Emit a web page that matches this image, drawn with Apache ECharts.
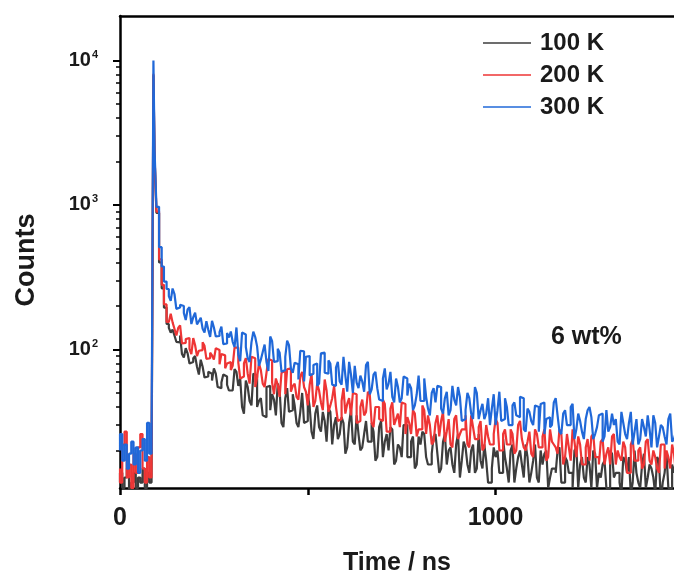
<!DOCTYPE html>
<html>
<head>
<meta charset="utf-8">
<script src="https://cdn.jsdelivr.net/npm/echarts@6/dist/echarts.min.js"></script>
<style>
html,body{margin:0;padding:0;background:#fff;}
#chart{width:674px;height:572px;}
</style>
</head>
<body>
<div id="chart"></div>
<script>
// Time channels (ns): baseline, peak and tail channels
const times = [0,6,12,18,24,30,36,42,48,54,60,66,72,78,84,89,
92,97,104,111,117,124,
130,140,150,160,170,180,190,200,210,220,230,240,250,260,270,280,290,300,310,320,330,340,350,360,370,380,390,400,
410,420,430,440,450,460,470,480,490,500,510,520,530,540,550,560,570,580,590,600,610,620,630,640,650,660,670,680,690,700,
710,720,730,740,750,760,770,780,790,800,810,820,830,840,850,860,870,880,890,900,910,920,930,940,950,960,970,980,990,1000,
1010,1020,1030,1040,1050,1060,1070,1080,1090,1100,1110,1120,1130,1140,1150,1160,1170,1180,1190,1200,1210,1220,1230,1240,1250,
1260,1270,1280,1290,1300,1310,1320,1330,1340,1350,1360,1370,1380,1390,1400,1410,1420,1430,1440,1450,1460,1470,1480];

// In-between tail channels (ns)
const timesMid = [135,145,155,165,175,185,195,205,215,225,235,245,255,265,275,285,295,305,315,325,335,345,355,365,375,385,395,405,
415,425,435,445,455,465,475,485,495,505,515,525,535,545,555,565,575,585,595,605,615,625,635,645,655,665,675,685,695,705,
715,725,735,745,755,765,775,785,795,805,815,825,835,845,855,865,875,885,895,905,915,925,935,945,955,965,975,985,995,1005,
1015,1025,1035,1045,1055,1065,1075,1085,1095,1105,1115,1125,1135,1145,1155,1165,1175,1185,1195,1205,1215,1225,1235,1245,
1255,1265,1275,1285,1295,1305,1315,1325,1335,1345,1355,1365,1375,1385,1395,1405,1415,1425,1435,1445,1455,1465,1475,1485];

const counts100K = [12,14,11,13,15,10,12,14,11,13,12,15,11,14,12,13,
7900,2150,880,400,265,195,
150,131,125,112,93,102,80,87,76,85,64,70,61,68,54,67,57,52,
73,56,40,61,44,68,40,46,34,56,
49,35,52,29,54,38,41,29,50,32,
40,24,41,27,32,39,22,34,26,31,
21,38,22,26,21,32,23,27,18,32,
23,20,28,17,21,30,18,23,15,25,
27,18,16,25,19,15,26,20,16,22,
13,23,16,20,14,26,15,17,12,21,
20,14,18,12,22,15,20,13,18,14,
22,12,16,20,13,15,20,12,18,14,
11,21,16,13,18,11,19,14,16,11,
20,13,14,10,17,18,12,14,11,19,
13,15,10,17,12,19,11,14];

const counts100KMid = [141,137,113,125,88,94,82,90,67,76,65,68,74,55,59,65,52,52,
70,63,36,55,41,66,44,35,55,38,
45,58,31,46,37,49,31,37,31,49,
27,36,29,37,23,37,30,24,34,19,
31,23,35,20,26,23,31,17,29,18,
26,29,16,22,18,30,18,25,16,22,
26,16,19,26,14,23,16,21,14,26,
17,21,14,22,15,17,22,12,15,18,
14,24,15,20,12,18,16,22,12,17,
13,20,19,11,15,14,21,12,17,14,
20,11,18,12,16,20,11,13,17,11,
19,14,12,18,14,10,20,12,16,11,
16,13,18,9,14,11,16,17];

const counts200K = [15,12,22,27,13,16,11,19,14,21,26,15,12,18,13,16,
8100,2200,900,420,280,205,
155,177,139,141,110,118,101,120,90,99,106,87,91,102,79,91,80,72,
103,81,65,87,58,87,64,72,55,86,
59,63,47,71,73,51,58,45,70,51,
57,40,58,43,62,37,46,40,33,54,
42,35,49,32,45,37,49,29,40,32,
42,27,43,33,29,42,34,26,36,28,
41,26,30,23,35,32,23,33,21,35,
26,28,22,35,24,29,20,30,22,26,
31,20,28,22,26,20,32,21,23,19,
28,21,25,17,28,22,19,26,18,21,
28,18,22,16,24,25,18,16,24,19,
16,26,20,17,21,14,24,17,21,16,
24,16,18,14,22,20,15,19];

const counts200KMid = [160,154,125,147,111,120,93,107,98,112,86,95,85,99,93,74,82,77,
103,63,80,68,89,55,80,58,69,84,
49,57,69,49,74,56,47,65,55,41,
68,44,52,38,52,41,56,32,44,36,
46,50,31,40,35,51,31,40,33,45,
27,39,30,36,43,26,31,38,25,28,
38,35,22,31,25,37,27,22,33,24,
28,35,21,29,24,32,21,25,22,33,
20,26,22,28,19,30,24,20,27,18,
26,21,28,18,23,21,28,16,26,17,
23,25,16,21,17,26,18,23,16,21,
25,16,18,23,14,22,17,20,15,23,
17,20,15,22,15,18,22,14];

const counts300K = [20,26,17,22,15,19,23,16,21,14,20,24,17,31,19,23,
10000,2400,970,510,375,295,
262,217,242,195,200,160,196,167,149,166,131,137,158,123,132,109,130,133,
104,92,131,104,82,133,105,85,108,71,
114,83,95,72,115,74,81,62,97,89,
66,78,56,94,69,84,57,75,60,89,
51,67,77,54,60,78,49,67,54,44,
74,58,47,63,43,65,48,54,41,66,
44,47,35,54,56,39,46,35,56,41,
47,33,50,36,55,33,42,36,30,49,
38,32,46,30,41,35,47,28,39,32,
41,27,43,33,29,43,35,26,38,30,
42,28,32,24,38,34,26,35,23,38,
29,30,23,37,26,31,22,33,24,29,
35,21,31,25,29,22,36,24];

const counts300KMid = [234,264,191,204,179,189,150,180,157,139,157,122,142,124,144,110,121,113,
142,83,127,87,112,122,77,96,82,123,
82,101,70,89,107,69,79,98,60,90,
68,80,58,95,68,80,56,82,57,66,
82,50,59,66,51,82,53,70,45,63,
53,70,43,55,46,63,58,38,49,44,
63,39,50,43,55,36,51,38,45,55,
32,38,46,33,50,38,33,46,39,30,
51,33,40,30,43,34,46,27,37,30,
40,42,26,34,30,46,27,36,30,40,
24,36,27,33,40,24,29,36,25,27,
36,33,22,31,24,37,27,22,33,25,
28,35,21,30,25,33,23,27];

const seriesNames = ['100 K','200 K','300 K'];
const seriesColors = ['#3d3d3d','#ee3535','#2068d8'];
const yMajorTicks = [100,1000,10000];
const yMinorTicks = [20,30,40,50,60,70,80,90,200,300,400,500,600,700,800,900,2000,3000,4000,5000,6000,7000,8000,9000];
const xTicks = [0,500,1000];
const xLabels = [0,1000];

const FONT = 'Liberation Sans, Arial, sans-serif';
const TXT = '#1a1a1a';

function pairs(vals, mids){
  const a = times.map((t,i)=>[t, vals[i]]).concat(timesMid.map((t,i)=>[t, mids[i]]));
  a.sort((p,q)=>p[0]-q[0]);
  return a;
}

const chart = echarts.init(document.getElementById('chart'), null, {renderer:'canvas'});
chart.setOption({
  animation:false,
  backgroundColor:'#fff',
  grid:{left:120, top:16, width:554, bottom:84, containLabel:false, outerBoundsMode:'none'},
  legend:{
    orient:'vertical', left:478, top:26, itemWidth:48, itemHeight:1.5, itemGap:8,
    icon:'rect',
    data:seriesNames,
    textStyle:{fontFamily:FONT, fontWeight:'bold', fontSize:24, color:TXT, padding:[0,0,0,4]}
  },
  xAxis:[{
    type:'value', min:0, max:1475, interval:500, position:'bottom',
    name:'Time / ns', nameLocation:'middle', nameGap:63,
    nameTextStyle:{fontFamily:FONT, fontWeight:'bold', fontSize:25, color:TXT},
    axisLine:{show:true, lineStyle:{color:'#000', width:2.5}},
    axisTick:{show:true, customValues:xTicks, length:7, lineStyle:{color:'#000', width:2.5}},
    axisLabel:{customValues:xLabels, margin:18, fontFamily:FONT, fontWeight:'bold', fontSize:25, color:TXT,
      formatter:function(v){ return (v===0||v===1000)? String(v) : ''; }},
    splitLine:{show:false}
  },{
    type:'value', min:0, max:1475, position:'top',
    axisLine:{show:true, lineStyle:{color:'#000', width:2.5}},
    axisTick:{show:false}, axisLabel:{show:false}, splitLine:{show:false}
  }],
  yAxis:[{
    type:'log', logBase:10, min:11, max:20300, position:'left',
    axisLine:{show:true, lineStyle:{color:'#000', width:2.5}},
    axisTick:{show:true, customValues:yMajorTicks, length:7, lineStyle:{color:'#000', width:2}},
    axisLabel:{customValues:yMajorTicks, margin:22,
      formatter:function(v){ const e = Math.round(Math.log10(v)); return '{b|10}{s|'+e+'}'; },
      rich:{
        b:{fontFamily:FONT, fontWeight:'bold', fontSize:20, color:TXT, lineHeight:22},
        s:{fontFamily:FONT, fontWeight:'bold', fontSize:11, color:TXT, verticalAlign:'top', lineHeight:22, padding:[0,0,10,1]}
      }},
    splitLine:{show:false}, minorTick:{show:false}
  },{
    type:'log', logBase:10, min:11, max:20300, position:'left',
    axisLine:{show:false},
    axisTick:{show:true, customValues:yMinorTicks, length:4, lineStyle:{color:'#000', width:1.5}},
    axisLabel:{show:false}, splitLine:{show:false}
  }],
  series:[
    {name:seriesNames[0], type:'line', step:'start', data:pairs(counts100K, counts100KMid), showSymbol:false, symbol:'none',
     lineStyle:{color:seriesColors[0], width:2.2}, itemStyle:{color:seriesColors[0]}, clip:true, z:2},
    {name:seriesNames[1], type:'line', step:'start', data:pairs(counts200K, counts200KMid), showSymbol:false, symbol:'none',
     lineStyle:{color:seriesColors[1], width:2.2}, itemStyle:{color:seriesColors[1]}, clip:true, z:3},
    {name:seriesNames[2], type:'line', step:'start', data:pairs(counts300K, counts300KMid), showSymbol:false, symbol:'none',
     lineStyle:{color:seriesColors[2], width:2.2}, itemStyle:{color:seriesColors[2]}, clip:true, z:4}
  ],
  graphic:[{
    type:'text', left:551, top:325,
    style:{text:'6 wt%', fontFamily:FONT, fontWeight:'bold', fontSize:25, fill:TXT}
  },{
    type:'text', x:27, y:260, rotation:Math.PI/2,
    style:{text:'Counts', fontFamily:FONT, fontWeight:'bold', fontSize:27, fill:TXT, align:'center', verticalAlign:'middle'}
  }]
});
</script>
</body>
</html>
